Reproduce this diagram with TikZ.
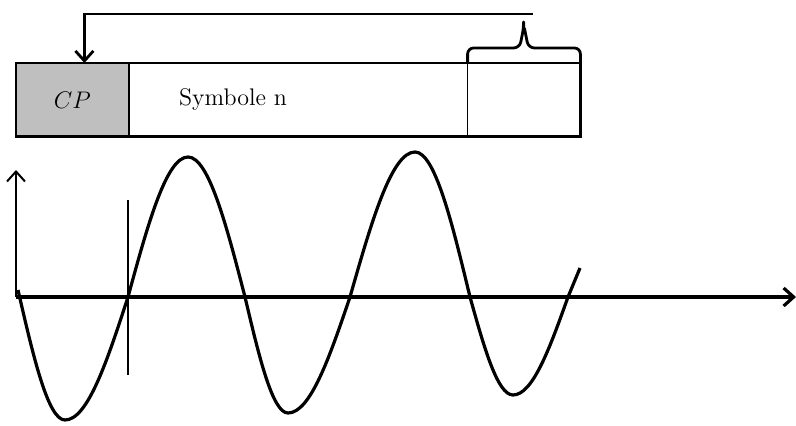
\documentclass[tikz,border=0pt]{standalone}
\usetikzlibrary{arrows.meta}
\begin{document}
\begin{tikzpicture}[
    x=0.5pt, y=-0.5pt,
    font=\fontsize{12}{14}\selectfont,
    box/.style={minimum height=36.5pt, inner sep=0pt, anchor=north west},
    frame/.style={line width=1.4pt},
    arr/.style={-{Straight Barb[length=5pt,width=9pt]}, line width=1.4pt},
    wave/.style={line width=1.6pt, line join=round},
  ]
  \useasboundingbox (0,0) rectangle (796,426);
  % trame: prefixe, symbole, fin du symbole
  \node[box, fill=black!25, minimum width=56pt] (cp) at (16,63) {\fontsize{12.5}{14}\selectfont$CP$};
  \node[box, minimum width=169pt] (sym) at (cp.north east) {};
  \node[box, minimum width=56pt] (tail) at (sym.north east) {};
  \draw[frame] (cp.north west) rectangle (tail.south east);
  \draw[line width=0.9pt] (cp.north east) -- (cp.south east);
  \draw[line width=0.6pt] (sym.north east) -- (sym.south east);
  \node (symlbl) at (233,100) {Symbole n};
  % accolade sur la fin du symbole
  \draw[frame, line join=round, rounded corners=3pt] (tail.north west) -- ++(0,-15) -- ++(52,0) -- ++(4,-20) -- ++(0,0);
  \draw[frame, line join=round, rounded corners=3pt] (tail.north east) -- ++(0,-15) -- ++(-52,0) -- ++(-4,-20);
  % recopie vers le prefixe
  \coordinate (src) at (533,14);
  \draw[arr] (src) -| ([xshift=6pt]cp.north);
  % axes et signal
  \coordinate (o) at (16,297);
  \coordinate (xend) at (796,297);
  \coordinate (yend) at (16,170);
  \draw[arr, line width=1.6pt] (o) -- (xend);
  \draw[arr, line width=1pt] (o) -- (yend);
  \coordinate (mtop) at (128,200);
  \coordinate (mbot) at (128,375);
  \draw[line width=1.2pt] (mtop) -- (mbot);
  \draw[wave] (18,290) sin (65,420) cos (128,297) sin (188,157) cos (245,297)
    sin (288,413) cos (350,297) sin (415,152) cos (470,297) sin (513,395) cos (568,297) -- (580,268);
\end{tikzpicture}
\end{document}
